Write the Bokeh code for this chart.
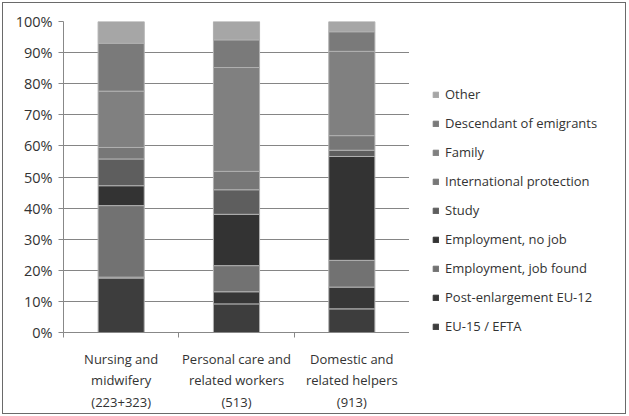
from bokeh.plotting import figure
from bokeh.layouts import row
from bokeh.models import FixedTicker, NumeralTickFormatter, Legend, LegendItem, Range1d
from bokeh.embed import file_html
from bokeh.resources import INLINE

categories = ["Nursing and\nmidwifery\n(223+323)", "Personal care and\nrelated workers\n(513)", "Domestic and\nrelated helpers\n(913)"]
series = ["EU-15 / EFTA", "Post-enlargement EU-12", "Employment, job found", "Employment, no job",
          "Study", "International protection", "Family", "Descendant of emigrants", "Other"]
eu15 = [17.5, 9.2, 7.6]
eu12 = [0.3, 3.9, 7.0]
job_found = [23.0, 8.4, 8.6]
no_job = [6.4, 16.5, 33.4]
study = [8.6, 7.9, 2.0]
intl = [3.7, 5.9, 4.7]
family = [18.1, 33.4, 27.1]
descendant = [15.4, 8.9, 6.3]
other = [7.0, 5.9, 3.3]
colors = ["#3d3d3d", "#363636", "#727272", "#333333", "#5e5e5e", "#777777", "#808080", "#7a7a7a", "#a6a6a6"]

values = [eu15, eu12, job_found, no_job, study, intl, family, descendant, other]
xs = [0.5, 1.5, 2.5]

p = figure(width=406, height=410, output_backend="svg", toolbar_location=None,
           x_range=Range1d(0, 3), y_range=Range1d(0, 1),
           min_border_left=60, min_border_right=0, min_border_top=18, min_border_bottom=72)
p.outline_line_color = None
p.xgrid.grid_line_color = None
p.ygrid.grid_line_color = "#858585"
p.ygrid.ticker = FixedTicker(ticks=[i / 10 for i in range(11)])

bottom = [0.0, 0.0, 0.0]
for name, vals, col in zip(series, values, colors):
    top = [b + v / 100 for b, v in zip(bottom, vals)]
    p.vbar(x=xs, width=0.4, bottom=bottom, top=top, fill_color=col,
           line_color="#b0b0b0", line_width=1)
    bottom = top

yax = p.yaxis[0]
yax.ticker = FixedTicker(ticks=[i / 10 for i in range(11)])
yax.formatter = NumeralTickFormatter(format="0%")
yax.axis_line_color = "#888888"
yax.major_tick_line_color = "#888888"
yax.major_tick_out = 5
yax.major_tick_in = 0
yax.minor_tick_line_color = None
yax.major_label_standoff = 6
yax.major_label_text_font = "Open Sans"
yax.major_label_text_font_size = "14.5px"
yax.major_label_text_color = "#333333"

xax = p.xaxis[0]
xax.ticker = FixedTicker(ticks=xs, minor_ticks=[0, 1, 2, 3])
xax.major_label_overrides = {0.5: categories[0], 1.5: categories[1], 2.5: categories[2]}
xax.axis_line_color = "#888888"
xax.major_tick_line_color = None
xax.minor_tick_line_color = "#888888"
xax.minor_tick_out = 5
xax.minor_tick_in = 0
xax.major_label_standoff = 11
xax.major_label_text_font = "Open Sans"
xax.major_label_text_font_size = "13px"
xax.major_label_text_color = "#333333"

# legend panel
q = figure(width=216, height=410, output_backend="svg", toolbar_location=None,
           x_range=Range1d(0, 1), y_range=Range1d(0, 1),
           min_border_left=23, min_border_right=0, min_border_top=18, min_border_bottom=72)
q.axis.visible = False
q.grid.visible = False
q.outline_line_color = None
items = []
for name, col in zip(series, colors):
    r = q.vbar(x=[5], width=0.4, bottom=[0], top=[1], fill_color=col, line_color=col)
    items.append(LegendItem(label=name, renderers=[r]))
items.reverse()
legend = Legend(items=items, location=(0, -3), orientation="vertical",
                glyph_width=7, glyph_height=7, label_height=12, spacing=11,
                label_standoff=6, padding=0, margin=0,
                border_line_color=None, background_fill_alpha=0,
                label_text_font="Open Sans", label_text_font_size="13px",
                label_text_color="#333333")
q.add_layout(legend, "center")

layout = row(p, q)
layout.styles = {"border": "1px solid #6a6a6a", "margin": "2px"}

open("out.html", "w").write(file_html(layout, INLINE))
